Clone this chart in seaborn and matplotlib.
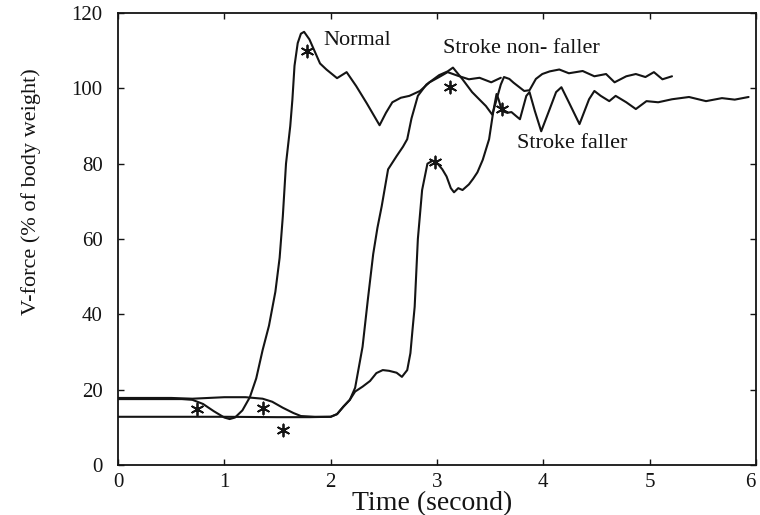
import numpy as np
import pandas as pd
import matplotlib
matplotlib.use("Agg")
import matplotlib.pyplot as plt
import seaborn as sns

# ---- data ----
normal_t = [0, 0.3, 0.6, 0.7, 0.8, 0.9, 1.0, 1.05, 1.1, 1.17, 1.24, 1.3, 1.36, 1.42, 1.48,
            1.52, 1.55, 1.58, 1.62, 1.64, 1.66, 1.69, 1.72, 1.75, 1.8, 1.9, 1.96, 2.06, 2.15,
            2.24, 2.34, 2.46, 2.52, 2.58, 2.66, 2.74, 2.84, 2.93, 3.02, 3.1, 3.2, 3.3, 3.4,
            3.51, 3.6]
normal_v = [17.5, 17.5, 17.5, 17.3, 16.2, 14.3, 12.6, 12.2, 12.6, 14.5, 18, 23, 30.5, 37, 46,
            55, 66, 80, 90, 97, 106, 112, 114.5, 115, 113, 106.6, 105, 102.7, 104.3,
            100.6, 96, 90.2, 93.5, 96.3, 97.5, 98, 99.3, 101.6, 103, 104.3, 103.3, 102.4, 102.8,
            101.6, 102.8]

nonfaller_t = [0, 0.5, 0.7, 1.0, 1.2, 1.36, 1.45, 1.55, 1.65, 1.72, 1.85, 2.0, 2.06, 2.12,
               2.18, 2.23, 2.3, 2.35, 2.4, 2.44, 2.48, 2.54, 2.62, 2.68, 2.72, 2.76, 2.82, 2.9,
               3.02, 3.1, 3.15, 3.24, 3.33, 3.4, 3.46, 3.52, 3.56, 3.6, 3.63, 3.68, 3.72, 3.82,
               3.87, 3.93, 3.99, 4.06, 4.15, 4.24, 4.37, 4.48, 4.59, 4.67, 4.78, 4.87, 4.96,
               5.04, 5.12, 5.21]
nonfaller_v = [17.8, 17.8, 17.6, 18, 18, 17.6, 16.8, 15.2, 13.8, 13, 12.8, 12.8, 13.5, 15.5,
               17.3, 20.5, 31.4, 44, 56, 63, 68.7, 78.5, 82, 84.5, 86.5, 92, 98, 101,
               103.5, 104.5, 105.5, 102.4, 99, 97, 95.3, 93, 97, 101, 103, 102.5, 101.5, 99.3,
               99.5, 102.5, 103.8, 104.5, 105, 104, 104.6, 103.2, 103.8, 101.6, 103.2, 103.8, 103,
               104.3, 102.4, 103.2]

faller_t = [0, 0.5, 1.0, 1.5, 1.8, 2.0, 2.06, 2.12, 2.18, 2.23, 2.3, 2.37, 2.43, 2.49, 2.55,
            2.62, 2.67, 2.72, 2.75, 2.77, 2.79, 2.82, 2.86, 2.91, 2.96, 3.0, 3.05, 3.09, 3.13,
            3.16, 3.2, 3.24, 3.3, 3.34, 3.38, 3.43, 3.49, 3.53, 3.56, 3.58, 3.61, 3.66, 3.7,
            3.75, 3.78, 3.84, 3.87, 3.92, 3.98, 4.06, 4.12, 4.17, 4.24, 4.34, 4.43, 4.48, 4.54,
            4.62, 4.68, 4.78, 4.87, 4.97, 5.08, 5.21, 5.37, 5.53, 5.68, 5.8, 5.93]
faller_v = [12.8, 12.8, 12.8, 12.7, 12.7, 12.8, 13.5, 15.5, 17.3, 19.5, 20.8, 22.3, 24.4, 25.2, 25,
            24.5, 23.4, 25.2, 29.7, 36, 42, 60, 73, 80, 80.8, 80.2, 78.5, 76.6, 73.5,
            72.4, 73.5, 73, 74.5, 76, 77.7, 81, 86.5, 94, 98.5, 97, 94, 93.5, 93.7,
            92.5, 91.8, 98, 99, 94, 88.6, 94.5, 99, 100.3, 96.3, 90.5, 97.1, 99.3, 98,
            96.6, 98, 96.3, 94.5, 96.6, 96.3, 97.1, 97.7, 96.6, 97.4, 97, 97.7]

# asterisk event markers
star_t = [0.74, 1.36, 1.55, 1.78, 3.12, 3.61, 2.98]
star_v = [15.0, 15.2, 9.3, 110.0, 100.3, 94.5, 80.5]

series_names = ["Normal", "Stroke non- faller", "Stroke faller"]
label_x = [1.93, 3.06, 3.75]
label_y = [112.7, 110.6, 85.4]

x_ticks = [0, 1, 2, 3, 4, 5, 6]
y_ticks = [0, 20, 40, 60, 80, 100, 120]

# ---- build table ----
df = pd.concat([
    pd.DataFrame({"t": normal_t, "v": normal_v, "s": series_names[0]}),
    pd.DataFrame({"t": nonfaller_t, "v": nonfaller_v, "s": series_names[1]}),
    pd.DataFrame({"t": faller_t, "v": faller_v, "s": series_names[2]}),
], ignore_index=True)
stars = pd.DataFrame({"t": star_t, "v": star_v})

sns.set_style("ticks")
plt.rcParams["font.family"] = ["Liberation Serif", "DejaVu Serif"]

fig = plt.figure(figsize=(7.6, 5.15), dpi=100)
ax = fig.add_axes([118 / 760, 1 - 465 / 515, (756 - 118) / 760, (465 - 13) / 515])

sns.lineplot(data=df, x="t", y="v", hue="s", units="s", estimator=None, sort=False,
             palette=["#141414"] * 3, linewidth=1.5, legend=False, ax=ax)
sns.scatterplot(data=stars, x="t", y="v", marker=(6, 2, 0), color="#141414", s=75,
                linewidth=1.3, ax=ax, zorder=5)

for name, lx, ly in zip(series_names, label_x, label_y):
    ax.text(lx, ly, name, fontsize=16, va="center", ha="left", color="#141414")

ax.set_xlim(0, 6)
ax.set_ylim(0, 120)
ax.set_xticks(x_ticks)
ax.set_yticks(y_ticks)
ax.tick_params(direction="in", length=4, width=1.0, top=True, right=True,
               labelsize=15, colors="#141414")
ax.tick_params(axis="y", pad=11)
ax.tick_params(axis="x", pad=6)
xt_labels = ax.get_xticklabels()
xt_labels[-1].set_horizontalalignment("right")
for sp in ax.spines.values():
    sp.set_linewidth(1.3)
    sp.set_color("#141414")

ax.set_xlabel("Time (second)", fontsize=20, color="#141414")
ax.set_ylabel("V-force (% of body weight)", fontsize=16, color="#141414")
ax.xaxis.set_label_coords(0.492, -0.058)
ax.yaxis.set_label_coords(-0.12, 0.604)

fig.savefig("out.png", dpi=100)
